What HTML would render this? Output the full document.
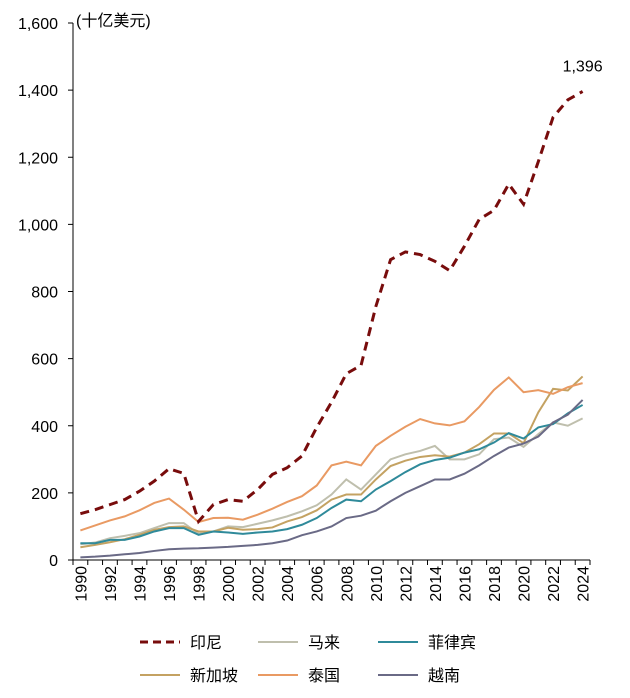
<!DOCTYPE html>
<html><head><meta charset="utf-8"><style>
body{margin:0;background:#fff;font-family:"Liberation Sans","Noto Sans CJK SC",sans-serif;}
svg text{font-family:"Liberation Sans","Noto Sans CJK SC",sans-serif;}
</style></head><body>
<svg id="c" width="630" height="693"></svg>
<script>
const years=[];for(let y=1990;y<=2024;y++)years.push(y);
const indonesia=[138,150,165,180,205,235,272,258,115,165,180,175,210,255,275,310,395,470,555,580,755,895,918,910,890,862,935,1015,1042,1120,1060,1187,1319,1371,1396];
const malaysia=[47,52,65,72,80,95,110,110,78,85,100,98,108,118,130,145,163,195,240,210,255,300,315,325,340,300,300,315,360,365,337,375,410,400,422];
const philippines=[50,50,60,60,70,85,95,95,75,85,82,78,82,85,92,105,125,155,180,175,210,235,262,285,298,305,320,330,350,378,362,395,405,437,462];
const singapore=[38,45,53,62,75,90,98,100,85,85,96,90,92,97,115,128,148,180,195,195,240,280,296,307,312,308,320,345,377,377,348,440,510,505,547];
const thailand=[88,103,118,130,148,170,183,150,113,125,126,120,135,153,173,190,222,282,293,282,340,370,397,420,407,401,413,456,507,544,500,506,495,515,527];
const vietnam=[8,10,13,17,21,27,32,34,35,37,39,42,45,50,58,74,85,100,125,132,147,175,200,220,240,240,257,282,310,335,347,368,410,433,477];
const yTicks=[0,200,400,600,800,1000,1200,1400,1600];
const svg=document.getElementById('c');const NS='http://www.w3.org/2000/svg';
function el(t,a,p){const e=document.createElementNS(NS,t);for(const k in a)e.setAttribute(k,a[k]);(p||svg).appendChild(e);return e;}
const x0=73,x1=590,y0=560,yTop=23,band=(x1-x0)/years.length;
const X=i=>x0+band*(i+0.5);const Y=v=>y0-(v/1600)*(y0-yTop);
let a=el('line',{x1:x0,y1:yTop,x2:x0,y2:y0,stroke:'#000','stroke-width':1});

yTicks.forEach(v=>{el('line',{x1:x0-5,y1:Y(v),x2:x0,y2:Y(v),stroke:'#000'});
 const t=el('text',{x:x0-15,y:Y(v)+6,'text-anchor':'end','font-size':16});t.textContent=v.toLocaleString('en-US');
 });
a=el('line',{x1:x0,y1:y0,x2:x1,y2:y0,stroke:'#000'});

for(let i=0;i<=years.length;i++)el('line',{x1:x0+band*i,y1:y0,x2:x0+band*i,y2:y0+5,stroke:'#000'});
years.forEach((yr,i)=>{if(yr%2)return;const t=el('text',{x:0,y:0,'font-size':16,'text-anchor':'end',transform:`translate(${X(i)+6},${y0+6}) rotate(-90)`});t.textContent=yr;
 });
const series=[[malaysia,'#bfbfad',false,'malaysia-line'],[singapore,'#c4a262',false,'singapore-line'],[thailand,'#e99a63',false,'thailand-line'],[philippines,'#2f8a9a',false,'philippines-line'],[vietnam,'#6a6a86',false,'vietnam-line'],[indonesia,'#780c0c',true,'indonesia-line']];
series.forEach(([d,c,dash,n])=>{const p=el('polyline',{points:d.map((v,i)=>X(i)+','+Y(v)).join(' '),fill:'none',stroke:c,'stroke-width':dash?3:2,'stroke-dasharray':dash?'9,6':'none'});
 });
let t=el('text',{x:76,y:26,'font-size':16});t.textContent='(十亿美元)';
t=el('text',{x:X(34),y:Y(1396)-20,'font-size':16,'text-anchor':'middle'});t.textContent=indonesia[34].toLocaleString('en-US');
const legend=[['印尼','#780c0c',true,140,642],['马来','#bfbfad',false,258,642],['菲律宾','#2f8a9a',false,378,642],['新加坡','#c4a262',false,140,675],['泰国','#e99a63',false,258,675],['越南','#6a6a86',false,378,675]];
legend.forEach(([n,c,d,lx,ly])=>{const g=el('g',{});
 el('line',{x1:lx,y1:ly,x2:lx+40,y2:ly,stroke:c,'stroke-width':d?3:2,'stroke-dasharray':d?'8,5':'none'},g);
 const tt=el('text',{x:lx+50,y:ly+6,'font-size':16},g);tt.textContent=n;});
</script>
</body></html>
